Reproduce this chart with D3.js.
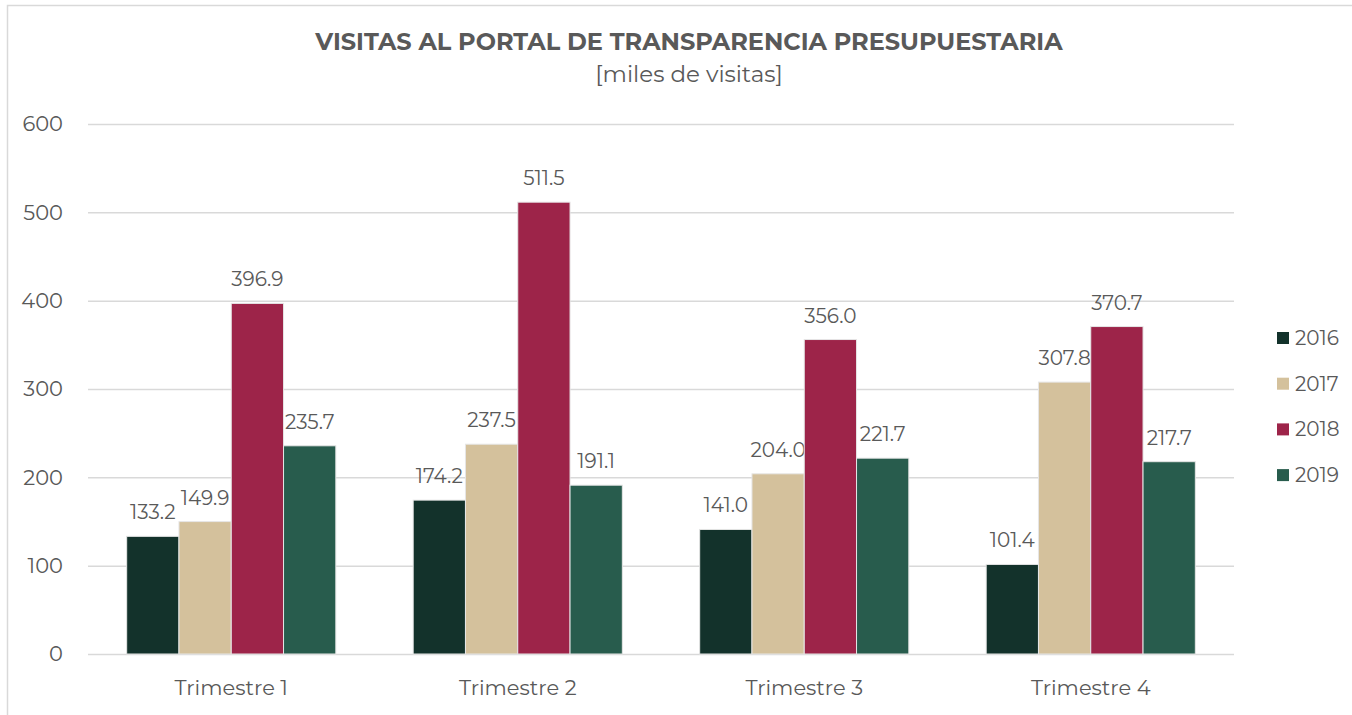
<!DOCTYPE html>
<html><head><meta charset="utf-8">
<script src="https://cdn.jsdelivr.net/npm/d3@7/dist/d3.min.js"></script>
<style>body{margin:0;background:#fff;}svg{display:block;}</style>
</head><body>
<svg id="c" width="1352" height="715"></svg>
<script>
const categories = ["Trimestre 1","Trimestre 2","Trimestre 3","Trimestre 4"];
const seriesNames = ["2016","2017","2018","2019"];
const v2016 = [133.2,174.2,141.0,101.4];
const v2017 = [149.9,237.5,204.0,307.8];
const v2018 = [396.9,511.5,356.0,370.7];
const v2019 = [235.7,191.1,221.7,217.7];
const yTicks = [0,100,200,300,400,500,600];
const colors = ["#13322B","#D4C19C","#9D2449","#285C4D"];
const title = "VISITAS AL PORTAL DE TRANSPARENCIA PRESUPUESTARIA";
const subtitle = "[miles de visitas]";

(function(){
const seriesVals = [v2016,v2017,v2018,v2019];
const svg = d3.select("#c");
const font = "Montserrat, 'Open Sans', Lato, sans-serif";
const txt = "#595959";

svg.append("rect").attr("x",7.5).attr("y",5.5).attr("width",1400).attr("height",800)
  .attr("fill","none").attr("stroke","#d9d9d9").attr("stroke-width",1.5);

const pl=88,pr=1234,pt=124,pb=654;
const y = d3.scaleLinear().domain([0,600]).range([pb,pt]);
const x0 = d3.scaleBand().domain(categories).range([pl,pr]).paddingInner(0.27).paddingOuter(0.135);
const x1 = d3.scaleBand().domain(seriesNames).range([0,x0.bandwidth()]).padding(0);

const yAxis = d3.axisLeft(y).tickValues(yTicks).tickSize(-(pr-pl)).tickFormat(d3.format("d"));
const gy = svg.append("g").attr("transform",`translate(${pl},0)`).call(yAxis);
gy.select(".domain").remove();
gy.selectAll(".tick line").attr("stroke","#d9d9d9").attr("stroke-width",1.5);
gy.selectAll(".tick text").attr("x",-25).attr("fill",txt).style("font-family",font).style("font-size","21px");

const gx = svg.append("g").attr("transform",`translate(0,${pb})`).call(d3.axisBottom(x0).tickSize(0));
gx.select(".domain").remove();
gx.selectAll(".tick text").attr("dy",0).attr("y",41).attr("fill",txt).style("font-family",font).style("font-size","21px");

const groups = svg.append("g").selectAll("g").data(categories).join("g")
  .attr("transform",d=>`translate(${x0(d)},0)`);
groups.each(function(cat,ci){
  const g = d3.select(this);
  seriesNames.forEach((s,si)=>{
    const v = seriesVals[si][ci];
    g.append("rect").attr("x",x1(s)).attr("y",y(v)).attr("width",x1.bandwidth()).attr("height",pb-y(v))
      .attr("fill",colors[si]).attr("stroke","#e6e6e6").attr("stroke-width",1);
    g.append("text").attr("x",x1(s)+x1.bandwidth()/2).attr("y",y(v)-17).attr("text-anchor","middle")
      .attr("fill",txt).style("font-family",font).style("font-size","20px").text(d3.format(".1f")(v));
  });
});

svg.append("text").attr("x",689).attr("y",50).attr("text-anchor","middle").attr("fill",txt)
  .style("font-family",font).style("font-weight","bold").style("font-size","24px").text(title);
svg.append("text").attr("x",689).attr("y",82).attr("text-anchor","middle").attr("fill",txt)
  .style("font-family",font).style("font-size","23px").text(subtitle);

const leg = svg.append("g").selectAll("g").data(seriesNames).join("g")
  .attr("transform",(d,i)=>`translate(1277,${338+i*45.7})`);
leg.append("rect").attr("x",0).attr("y",-6).attr("width",12).attr("height",12).attr("fill",(d,i)=>colors[i]);
leg.append("text").attr("x",18).attr("y",7).attr("fill",txt).style("font-family",font).style("font-size","20px").text(d=>d);
})();
</script>
</body></html>
